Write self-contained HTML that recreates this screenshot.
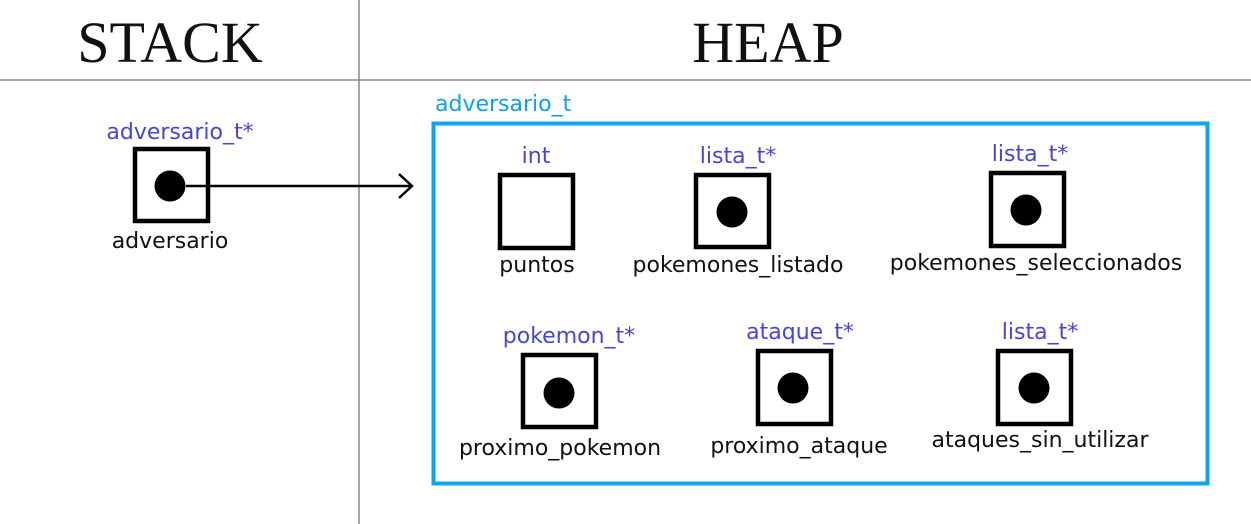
<!DOCTYPE html>
<html><head><meta charset="utf-8"><style>
html,body{margin:0;padding:0;background:#fff;}
svg{display:block}
.t{font-family:"DejaVu Sans","Liberation Sans",sans-serif;font-size:22px;fill:#4646d2;text-anchor:middle}
.n{font-family:"DejaVu Sans","Liberation Sans",sans-serif;font-size:22px;fill:#111;text-anchor:middle}
.h{font-family:"Liberation Serif",serif;font-size:58px;fill:#111;text-anchor:middle}
.b{fill:#fff;stroke:#000;stroke-width:4.5}
</style></head><body>
<svg width="1251" height="524" viewBox="0 0 1251 524">
<line x1="0" y1="80" x2="1251" y2="80" stroke="#888" stroke-width="1.5"/>
<line x1="359" y1="0" x2="359" y2="524" stroke="#888" stroke-width="1.5"/>
<text class="h" x="170" y="62">STACK</text>
<text class="h" x="768" y="62">HEAP</text>

<text class="t" x="180" y="139">adversario_t*</text>
<rect class="b" x="135" y="149" width="73" height="72"/>
<circle cx="170" cy="186" r="15.5"/>
<line x1="186" y1="186" x2="411" y2="186" stroke="#000" stroke-width="2.5"/>
<polyline points="399,174 412,186 399,198" fill="none" stroke="#000" stroke-width="2.5"/>
<text class="n" x="170" y="248">adversario</text>

<text x="435" y="111" style="font-family:'DejaVu Sans','Liberation Sans',sans-serif;font-size:22px;fill:#10a0e8">adversario_t</text>
<rect x="433.5" y="123.5" width="774" height="360" fill="none" stroke="#10a4e8" stroke-width="4"/>

<text class="t" x="536" y="163">int</text>
<rect class="b" x="500" y="175" width="73" height="73"/>
<text class="n" x="537" y="272">puntos</text>

<text class="t" x="738" y="163">lista_t*</text>
<rect class="b" x="696" y="175" width="73" height="72"/>
<circle cx="732" cy="212" r="15.5"/>
<text class="n" x="738" y="272">pokemones_listado</text>

<text class="t" x="1030" y="161">lista_t*</text>
<rect class="b" x="991" y="173" width="73" height="73"/>
<circle cx="1026" cy="210" r="15.5"/>
<text class="n" x="1036" y="270">pokemones_seleccionados</text>

<text class="t" x="569" y="343">pokemon_t*</text>
<rect class="b" x="523" y="355" width="73" height="72"/>
<circle cx="559" cy="393" r="15.5"/>
<text class="n" x="560" y="455">proximo_pokemon</text>

<text class="t" x="800" y="339">ataque_t*</text>
<rect class="b" x="758" y="351" width="73" height="73"/>
<circle cx="793" cy="388" r="15.5"/>
<text class="n" x="799" y="453">proximo_ataque</text>

<text class="t" x="1040" y="339">lista_t*</text>
<rect class="b" x="998" y="351" width="73" height="73"/>
<circle cx="1034" cy="388" r="15.5"/>
<text class="n" x="1040" y="447">ataques_sin_utilizar</text>
</svg>
</body></html>
